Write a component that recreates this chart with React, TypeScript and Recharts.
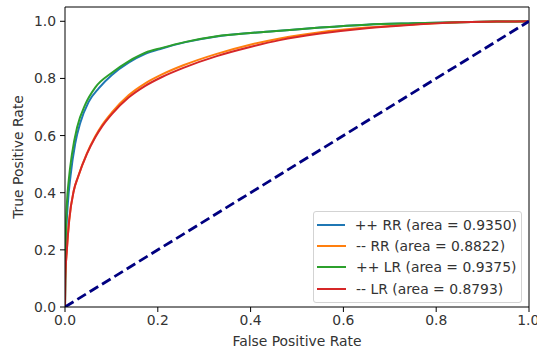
import React from "react";
import {
  Line,
  LineChart,
  ReferenceLine,
  XAxis,
  YAxis,
} from "recharts";

// values
const rrPosFpr = [0, 0.001, 0.003, 0.006, 0.012, 0.022, 0.033, 0.051, 0.073, 0.101, 0.137, 0.173, 0.209, 0.26, 0.327, 0.4, 0.463, 0.55, 0.65, 0.75, 0.85, 0.93, 1];
const rrPosTpr = [0, 0.14, 0.27, 0.36, 0.46, 0.572, 0.645, 0.718, 0.766, 0.812, 0.855, 0.886, 0.905, 0.927, 0.947, 0.959, 0.967, 0.978, 0.988, 0.993, 0.997, 0.999, 1];

const lrPosFpr = [0, 0.001, 0.002, 0.004, 0.008, 0.015, 0.026, 0.044, 0.065, 0.101, 0.137, 0.173, 0.209, 0.26, 0.327, 0.4, 0.463, 0.55, 0.65, 0.75, 0.85, 0.93, 1];
const lrPosTpr = [0, 0.15, 0.27, 0.36, 0.442, 0.535, 0.628, 0.71, 0.768, 0.82, 0.86, 0.89, 0.907, 0.928, 0.948, 0.959, 0.967, 0.978, 0.988, 0.993, 0.997, 0.999, 1];

const negFpr = [0, 0.0005, 0.004, 0.009, 0.019, 0.028, 0.047, 0.065, 0.08, 0.101, 0.137, 0.173, 0.209, 0.255, 0.327, 0.399, 0.463, 0.55, 0.65, 0.75, 0.85, 0.93, 1];
const rrNegTpr = [0, 0.094, 0.2, 0.303, 0.408, 0.455, 0.537, 0.597, 0.637, 0.681, 0.741, 0.783, 0.814, 0.846, 0.886, 0.918, 0.94, 0.962, 0.978, 0.989, 0.997, 0.999, 1];
const lrNegTpr = [0, 0.094, 0.2, 0.303, 0.408, 0.455, 0.535, 0.593, 0.632, 0.675, 0.733, 0.774, 0.805, 0.837, 0.878, 0.91, 0.934, 0.957, 0.976, 0.988, 0.997, 0.999, 1];

const chanceFpr = [0, 1];
const chanceTpr = [0, 1];

const seriesNames = ["++ RR", "-- RR", "++ LR", "-- LR"];
const seriesAuc = [0.935, 0.8822, 0.9375, 0.8793];
const seriesColors = ["#1f77b4", "#ff7f0e", "#2ca02c", "#d62728"];

const axisTicks = [0, 0.2, 0.4, 0.6, 0.8, 1.0];

const toPoints = (fpr: number[], tpr: number[]) =>
  fpr.map((x, i) => ({ fpr: x, tpr: tpr[i] }));

const seriesData = [
  toPoints(rrPosFpr, rrPosTpr),
  toPoints(negFpr, rrNegTpr),
  toPoints(lrPosFpr, lrPosTpr),
  toPoints(negFpr, lrNegTpr),
];
const chanceData = toPoints(chanceFpr, chanceTpr);

const FONT = "DejaVu Sans, sans-serif";
const TEXT = "#333";

function RocLegend() {
  return (
    <div
      style={{
        position: "absolute",
        left: 313,
        top: 211,
        width: 209,
        boxSizing: "border-box",
        border: "1px solid #d3d3d3",
        borderRadius: 3,
        background: "rgba(255,255,255,0.85)",
        padding: "2px 4px 3px 3px",
        fontFamily: FONT,
        fontSize: 13.9,
        color: TEXT,
      }}
    >
      {seriesNames.map((name, i) => (
        <div key={name} style={{ display: "flex", alignItems: "center", height: 21.3 }}>
          <span
            style={{
              display: "inline-block",
              width: 29,
              height: 2,
              background: seriesColors[i],
              marginRight: 10,
            }}
          />
          <span style={{ whiteSpace: "nowrap" }}>
            {name} (area = {seriesAuc[i].toFixed(4)})
          </span>
        </div>
      ))}
    </div>
  );
}

const YLabel = ({ viewBox }: any) => {
  const cy = viewBox.y + viewBox.height / 2;
  return (
    <text x={18} y={cy} transform={`rotate(-90 18 ${cy})`} textAnchor="middle" dominantBaseline="central" fill={TEXT} fontSize={13.9} fontFamily={FONT}>
      True Positive Rate
    </text>
  );
};

const XLabel = ({ viewBox }: any) => {
  const cx = viewBox.x + viewBox.width / 2;
  return (
    <text x={cx} y={346} textAnchor="middle" fill={TEXT} fontSize={13.9} fontFamily={FONT}>
      False Positive Rate
    </text>
  );
};

export default function App() {
  const tick = { fill: TEXT, fontSize: 13.9, fontFamily: FONT };
  return (
    <div style={{ position: "absolute", left: 0, top: 0, width: 537, height: 354, background: "#fff" }}>
      <LineChart width={537} height={354} margin={{ top: 7, right: 8, bottom: 0, left: 0 }}>
        <XAxis
          dataKey="fpr"
          type="number"
          domain={[0, 1]}
          ticks={axisTicks}
          tickFormatter={(v: number) => v.toFixed(1)}
          allowDataOverflow
          height={47}
          stroke="#000"
          tickSize={5}
          tickMargin={3}
          tick={tick}
          label={<XLabel />}
        />
        <YAxis
          dataKey="tpr"
          type="number"
          domain={[0, 1.05]}
          ticks={axisTicks}
          tickFormatter={(v: number) => v.toFixed(1)}
          allowDataOverflow
          width={65}
          stroke="#000"
          tickSize={5}
          tickMargin={4}
          tick={tick}
          label={<YLabel />}
        />
        <ReferenceLine y={1.05} stroke="#000" />
        <ReferenceLine x={1} stroke="#000" />
        {seriesData.map((d, i) => (
          <Line
            key={seriesNames[i]}
            data={d}
            dataKey="tpr"
            name={seriesNames[i]}
            type="monotone"
            stroke={seriesColors[i]}
            strokeWidth={2}
            dot={false}
            isAnimationActive={false}
          />
        ))}
        <Line
          data={chanceData}
          dataKey="tpr"
          type="linear"
          stroke="#000080"
          strokeWidth={2.8}
          strokeDasharray="10 4.5"
          dot={false}
          legendType="none"
          isAnimationActive={false}
        />
      </LineChart>
      <RocLegend />
    </div>
  );
}
